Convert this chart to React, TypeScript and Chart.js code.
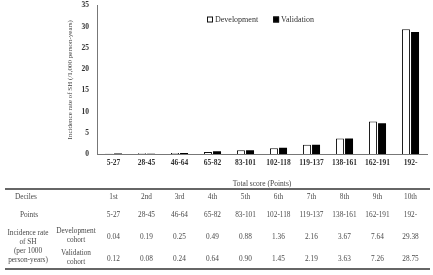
import React, { useEffect, useRef } from "react";
import { Chart, registerables } from "chart.js";

Chart.register(...registerables);

// Score bands (deciles) shown on the x axis and in the table
const scoreBands = ["5-27", "28-45", "46-64", "65-82", "83-101", "102-118", "119-137", "138-161", "162-191", "192-"];
const decileNames = ["1st", "2nd", "3rd", "4th", "5th", "6th", "7th", "8th", "9th", "10th"];

// Incidence rate of SH per 1000 person-years
const developmentRates = [0.04, 0.19, 0.25, 0.49, 0.88, 1.36, 2.16, 3.67, 7.64, 29.38];
const validationRates = [0.12, 0.08, 0.24, 0.64, 0.9, 1.45, 2.19, 3.63, 7.26, 28.75];

const yTicks = [0, 5, 10, 15, 20, 25, 30, 35];

const SERIF = '"Liberation Serif", "Times New Roman", serif';

// Legend drawn inside the plot area, above the bars
const insideLegend = {
  id: "insideLegend",
  afterDraw(chart: any) {
    const { ctx, chartArea } = chart;
    const y = chartArea.top + 14;
    let x = chartArea.left + 110;
    ctx.save();
    ctx.font = `8px ${SERIF}`;
    ctx.textBaseline = "middle";
    chart.data.datasets.forEach((ds: any) => {
      const box = 6;
      ctx.fillStyle = ds.backgroundColor;
      ctx.fillRect(x, y - box / 2, box, box);
      ctx.strokeStyle = "#111";
      ctx.lineWidth = 1;
      ctx.strokeRect(x + 0.5, y - box / 2 + 0.5, box - 1, box - 1);
      ctx.fillStyle = "#333";
      ctx.fillText(ds.label, x + box + 2, y);
      x += box + 2 + ctx.measureText(ds.label).width + 15;
    });
    ctx.restore();
  },
};

function RateChart() {
  const ref = useRef<HTMLCanvasElement | null>(null);
  useEffect(() => {
    if (!ref.current) return;
    const chart = new Chart(ref.current, {
      type: "bar",
      data: {
        labels: scoreBands,
        datasets: [
          {
            label: "Development",
            data: developmentRates,
            backgroundColor: "#ffffff",
            borderColor: "#111111",
            borderWidth: 1,
            categoryPercentage: 0.55,
            barPercentage: 0.88,
          },
          {
            label: "Validation",
            data: validationRates,
            backgroundColor: "#000000",
            borderColor: "#000000",
            borderWidth: 0,
            categoryPercentage: 0.55,
            barPercentage: 0.88,
          },
        ],
      },
      options: {
        animation: false,
        responsive: false,
        maintainAspectRatio: false,
        layout: { padding: { left: 66, right: 6, top: 0, bottom: 6 } },
        plugins: { legend: { display: false }, tooltip: { enabled: false } },
        scales: {
          x: {
            grid: { display: false, drawTicks: false },
            border: { display: true, color: "#777", width: 1 },
            ticks: {
              color: "#333",
              padding: 5,
              maxRotation: 0,
              autoSkip: false,
              font: { family: SERIF, size: 7.5, weight: "bold" },
            },
            title: {
              display: true,
              text: "Total score (Points)",
              color: "#444",
              padding: 0,
              font: { family: SERIF, size: 7.5 },
            },
            afterFit: (s: any) => {
              s.height = 35;
            },
          },
          y: {
            min: 0,
            max: 35,
            afterBuildTicks: (s: any) => {
              s.ticks = yTicks.map((v) => ({ value: v }));
            },
            grid: { display: false, drawTicks: false },
            border: { display: true, color: "#777", width: 1 },
            ticks: {
              color: "#333",
              padding: 8,
              font: { family: SERIF, size: 7.5, weight: "bold" },
            },
            title: {
              display: true,
              text: "Incidence rate of SH (/1,000 person-years)",
              color: "#444",
              padding: 0,
              font: { family: SERIF, size: 7 },
            },
            afterFit: (s: any) => {
              s.width = 31;
            },
          },
        },
      },
      plugins: [insideLegend],
    });
    return () => chart.destroy();
  }, []);
  return <canvas ref={ref} width={433} height={202} style={{ position: "absolute", left: 0, top: -7 }} />;
}

// Column centres of the table follow the bar categories
const colX = (i: number) => 113.5 + 33 * i;

function Cell({ x, y, children }: { x: number; y: number; children: React.ReactNode }) {
  return (
    <div
      style={{
        position: "absolute",
        left: x,
        top: y,
        transform: "translate(-50%, -50%)",
        textAlign: "center",
        whiteSpace: "nowrap",
        lineHeight: "9px",
      }}
    >
      {children}
    </div>
  );
}

function SummaryTable() {
  const fmt = (v: number) => v.toFixed(2);
  return (
    <div style={{ position: "absolute", left: 0, top: 0, width: 433, height: 275, fontFamily: SERIF, fontSize: 7.3, color: "#4a4a4a" }}>
      <div style={{ position: "absolute", left: 5, width: 425, top: 188, height: 0, borderTop: "2px solid #666" }} />
      <Cell x={26} y={196}>Deciles</Cell>
      {decileNames.map((d, i) => (
        <Cell key={d} x={colX(i)} y={196}>{d}</Cell>
      ))}
      <Cell x={29} y={214}>Points</Cell>
      {scoreBands.map((b, i) => (
        <Cell key={b} x={colX(i)} y={214}>{b}</Cell>
      ))}
      <Cell x={28} y={246}>
        Incidence rate
        <br />
        of SH
        <br />
        (per 1000
        <br />
        person-years)
      </Cell>
      <Cell x={76} y={235}>
        Development
        <br />
        cohort
      </Cell>
      <Cell x={76} y={257}>
        Validation
        <br />
        cohort
      </Cell>
      {developmentRates.map((v, i) => (
        <Cell key={"d" + i} x={colX(i)} y={236}>{fmt(v)}</Cell>
      ))}
      {validationRates.map((v, i) => (
        <Cell key={"v" + i} x={colX(i)} y={258}>{fmt(v)}</Cell>
      ))}
      <div style={{ position: "absolute", left: 5, width: 425, top: 268, height: 0, borderTop: "2px solid #666" }} />
    </div>
  );
}

export default function App() {
  return (
    <div style={{ position: "absolute", left: 0, top: 0, width: 433, height: 275, background: "#fff", overflow: "hidden" }}>
      <RateChart />
      <SummaryTable />
    </div>
  );
}
